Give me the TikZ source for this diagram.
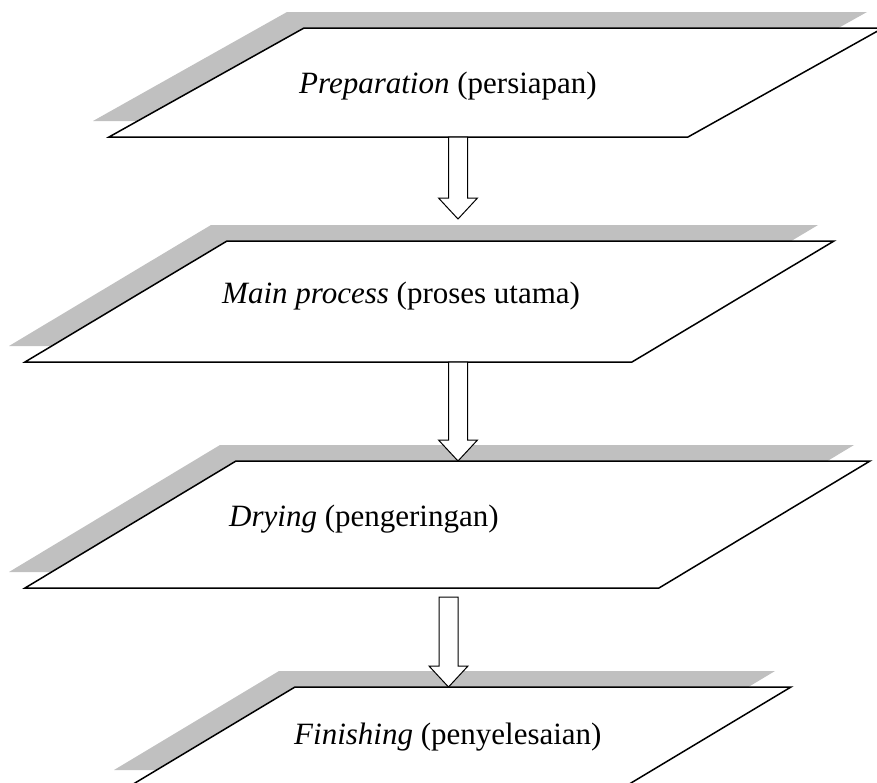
\documentclass[tikz,border=0pt]{standalone}
\usepackage{fontspec}
\setmainfont{Liberation Serif}
\usetikzlibrary{calc}
\definecolor{shadowgrey}{RGB}{192,192,192}
\tikzset{
  shadowbox/.style={fill=shadowgrey, draw=none},
  stagebox/.style={draw=black, fill=white, line width=1.5pt, line join=miter},
  stagelabel/.style={anchor=base west, inner sep=0pt, font=\fontsize{31}{37}\selectfont},
  flowarrow/.style={draw=black, fill=white, line width=1pt}
}
% hollow block arrow from #1 (top of shaft) down to #2 (tip)
\newcommand{\flowdown}[2]{%
  \draw[flowarrow] ($(#1)+(-9.5,0)$) -- ($(#2)+(-9.5,-21)$) -- ($(#2)+(-19.5,-21)$) -- (#2)
    -- ($(#2)+(19.5,-21)$) -- ($(#2)+(9.5,-21)$) -- ($(#1)+(9.5,0)$) -- cycle;}
\begin{document}
\begin{tikzpicture}[x=1pt,y=-1pt]
\useasboundingbox (0,0) rectangle (877,782);
\clip (0,0) rectangle (877,782);
% shadows
\fill[shadowbox] (287,12) -- (867,12) -- (672,121) -- (93,121) -- cycle;
\fill[shadowbox] (211,225) -- (818,225) -- (616,346) -- (9,346) -- cycle;
\fill[shadowbox] (220,445) -- (854,445) -- (643,572) -- (9,572) -- cycle;
\fill[shadowbox] (279,671) -- (775,671) -- (610,770) -- (114,770) -- cycle;
% stages
\draw[stagebox] (304,28) -- (883,28) -- (688,137) -- (109,137) -- cycle;
\node (prep) [stagelabel] at (299,93) {\textit{Preparation} (persiapan)};
\draw[stagebox] (227,241) -- (834,241) -- (632,362) -- (25,362) -- cycle;
\node (main) [stagelabel] at (222,303) {\textit{Main process} (proses utama)};
\draw[stagebox] (236,461) -- (870,461) -- (659,588) -- (25,588) -- cycle;
\node (dry) [stagelabel] at (229,526) {\textit{Drying} (pengeringan)};
\draw[stagebox] (295,687) -- (791,687) -- (626,786) -- (130,786) -- cycle;
\node (finish) [stagelabel] at (294,744) {\textit{Finishing} (penyelesaian)};
% arrows
\coordinate (prep-out) at (458,137);
\coordinate (main-in) at (458,219);
\coordinate (main-out) at (458,362);
\coordinate (dry-in) at (458,461);
\coordinate (dry-out) at (448.5,597);
\coordinate (finish-in) at (448.5,687);
\flowdown{prep-out}{main-in}
\flowdown{main-out}{dry-in}
\flowdown{dry-out}{finish-in}
\end{tikzpicture}
\end{document}
